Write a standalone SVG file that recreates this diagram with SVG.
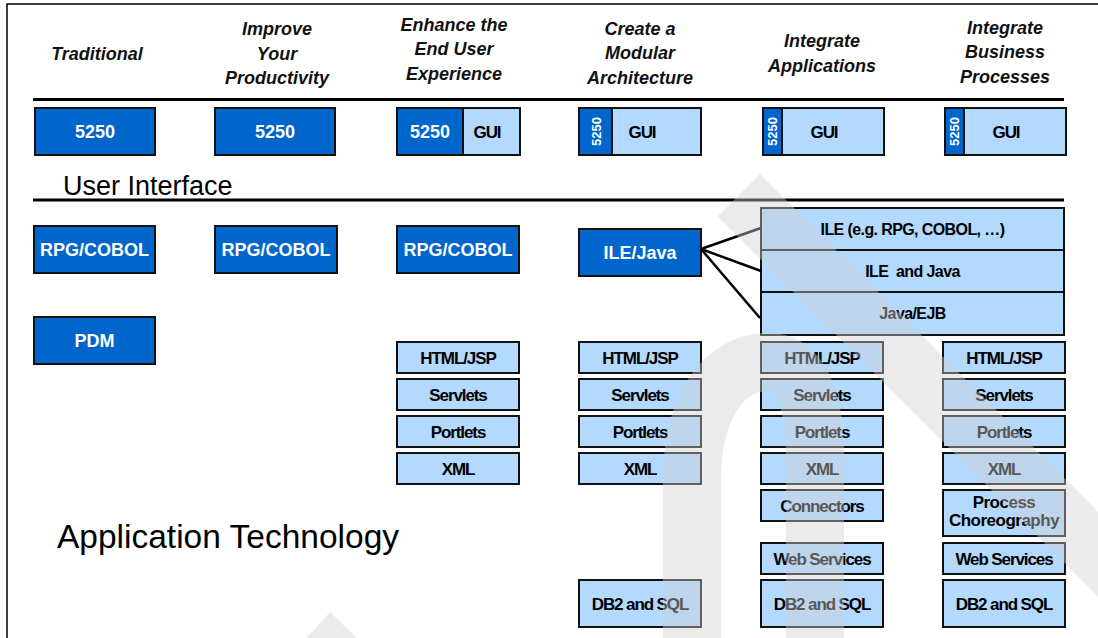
<svg xmlns="http://www.w3.org/2000/svg" width="1098" height="638" viewBox="0 0 1098 638">
<style>
  text { font-family: "Liberation Sans", Arial, sans-serif; }
  .hdr { font-size: 18px; font-weight: bold; font-style: italic; fill: #111; text-anchor: middle; }
  .sec { font-weight: normal; fill: #000; }
  .dkb { fill: #0066cc; stroke: #111; stroke-width: 2; }
  .ltb { fill: #b3d9ff; stroke: #111; stroke-width: 2; }
  .dk { font-size: 18px; font-weight: bold; fill: #fff; text-anchor: middle; }
  .vt { font-size: 13px; font-weight: bold; fill: #fff; text-anchor: middle; }
  .lt { font-size: 17px; font-weight: bold; fill: #000; text-anchor: middle; letter-spacing: -1.1px; }
  .st { font-size: 16px; font-weight: bold; fill: #000; text-anchor: middle; letter-spacing: -0.6px; }
  .rule { stroke: #000; stroke-width: 3; fill: none; }
  .conn { stroke: #000; stroke-width: 2.5; fill: none; }
  .wm { fill: #cfcfcf; opacity: 0.42; }
  .wms { stroke: #cfcfcf; opacity: 0.42; fill: none; }
</style>
<rect x="0" y="0" width="1098" height="638" fill="#fff"/>
<path d="M7 638 V4 H1098" stroke="#000" stroke-width="1.5" fill="none"/>

<g id="headers">
  <text class="hdr" x="97" y="60">Traditional</text>
  <text class="hdr" x="277" y="35">Improve</text>
  <text class="hdr" x="277" y="60">Your</text>
  <text class="hdr" x="277" y="84">Productivity</text>
  <text class="hdr" x="454" y="31">Enhance the</text>
  <text class="hdr" x="454" y="55">End User</text>
  <text class="hdr" x="454" y="80">Experience</text>
  <text class="hdr" x="640" y="35">Create a</text>
  <text class="hdr" x="640" y="59">Modular</text>
  <text class="hdr" x="640" y="84">Architecture</text>
  <text class="hdr" x="822" y="47">Integrate</text>
  <text class="hdr" x="822" y="72">Applications</text>
  <text class="hdr" x="1005" y="34">Integrate</text>
  <text class="hdr" x="1005" y="58">Business</text>
  <text class="hdr" x="1005" y="83">Processes</text>
</g>
<path class="rule" d="M33 99.5 H1064"/>
<text class="sec" x="63" y="195" font-size="27">User Interface</text>
<path class="rule" d="M33 200 H1064"/>
<text class="sec" x="57" y="548" font-size="33.5">Application Technology</text>

<g id="ui-traditional"><rect class="dkb" x="35" y="108" width="120" height="47"/><text class="dk" x="95" y="138">5250</text></g>
<g id="ui-productivity"><rect class="dkb" x="215" y="108" width="120" height="47"/><text class="dk" x="275" y="138">5250</text></g>
<g id="ui-enduser">
  <rect class="dkb" x="397" y="108" width="66" height="47"/><text class="dk" x="430" y="138">5250</text>
  <rect class="ltb" x="463" y="108" width="57" height="47"/><text class="lt" x="487" y="137.5">GUI</text>
</g>
<g id="ui-modular">
  <rect class="dkb" x="579" y="108" width="33" height="47"/><text class="vt" transform="translate(596 131.5) rotate(-90)" x="0" y="4.5">5250</text>
  <rect class="ltb" x="612" y="108" width="89" height="47"/><text class="lt" x="642" y="137.5">GUI</text>
</g>
<g id="ui-integrate-apps">
  <rect class="dkb" x="763" y="108" width="19" height="47"/><text class="vt" transform="translate(772.5 131.5) rotate(-90)" x="0" y="4.5">5250</text>
  <rect class="ltb" x="782" y="108" width="102" height="47"/><text class="lt" x="824" y="137.5">GUI</text>
</g>
<g id="ui-integrate-bp">
  <rect class="dkb" x="945" y="108" width="19" height="47"/><text class="vt" transform="translate(954.5 131.5) rotate(-90)" x="0" y="4.5">5250</text>
  <rect class="ltb" x="964" y="108" width="102" height="47"/><text class="lt" x="1006" y="137.5">GUI</text>
</g>

<g id="rpg1"><rect class="dkb" x="34" y="226" width="121" height="47"/><text class="dk" x="94.5" y="256">RPG/COBOL</text></g>
<g id="rpg2"><rect class="dkb" x="215" y="226" width="122" height="47"/><text class="dk" x="276" y="256">RPG/COBOL</text></g>
<g id="rpg3"><rect class="dkb" x="397" y="226" width="122" height="47"/><text class="dk" x="458" y="256">RPG/COBOL</text></g>
<g id="pdm"><rect class="dkb" x="34" y="317" width="121" height="47"/><text class="dk" x="94.5" y="347">PDM</text></g>
<g id="ilejava"><rect class="dkb" x="579" y="229" width="122" height="47"/><text class="dk" x="640" y="259">ILE/Java</text></g>

<g id="ile-stack">
  <rect class="ltb" x="761" y="208" width="303" height="42"/><text class="st" x="912.5" y="235">ILE (e.g. RPG, COBOL, …)</text>
  <rect class="ltb" x="761" y="250" width="303" height="42"/><text class="st" x="912.5" y="277" style="white-space:pre">ILE  and Java</text>
  <rect class="ltb" x="761" y="292" width="303" height="43"/><text class="st" x="912.5" y="319">Java/EJB</text>
</g>

<g id="connectors">
  <path class="conn" d="M701 249 L761 228 M701 249 L761 271 M701 249 L760 318"/>
</g>

<g id="col3-stack">
  <rect class="ltb" x="397" y="342" width="122" height="31"/><text class="lt" x="458" y="363.5">HTML/JSP</text>
  <rect class="ltb" x="397" y="379" width="122" height="31"/><text class="lt" x="458" y="400.5">Servlets</text>
  <rect class="ltb" x="397" y="416" width="122" height="31"/><text class="lt" x="458" y="437.5">Portlets</text>
  <rect class="ltb" x="397" y="453" width="122" height="31"/><text class="lt" x="458" y="474.5">XML</text>
</g>
<g id="col4-stack">
  <rect class="ltb" x="579" y="342" width="122" height="31"/><text class="lt" x="640" y="363.5">HTML/JSP</text>
  <rect class="ltb" x="579" y="379" width="122" height="31"/><text class="lt" x="640" y="400.5">Servlets</text>
  <rect class="ltb" x="579" y="416" width="122" height="31"/><text class="lt" x="640" y="437.5">Portlets</text>
  <rect class="ltb" x="579" y="453" width="122" height="31"/><text class="lt" x="640" y="474.5">XML</text>
  <rect class="ltb" x="579" y="580" width="122" height="47"/><text class="lt" x="640" y="609.5">DB2 and SQL</text>
</g>
<g id="col5-stack">
  <rect class="ltb" x="761" y="342" width="122" height="31"/><text class="lt" x="822" y="363.5">HTML/JSP</text>
  <rect class="ltb" x="761" y="379" width="122" height="31"/><text class="lt" x="822" y="400.5">Servlets</text>
  <rect class="ltb" x="761" y="416" width="122" height="31"/><text class="lt" x="822" y="437.5">Portlets</text>
  <rect class="ltb" x="761" y="453" width="122" height="31"/><text class="lt" x="822" y="474.5">XML</text>
  <rect class="ltb" x="761" y="490" width="122" height="31"/><text class="lt" x="822" y="511.5">Connectors</text>
  <rect class="ltb" x="761" y="543" width="122" height="31"/><text class="lt" x="822" y="564.5">Web Services</text>
  <rect class="ltb" x="761" y="580" width="122" height="47"/><text class="lt" x="822" y="609.5">DB2 and SQL</text>
</g>
<g id="col6-stack">
  <rect class="ltb" x="943" y="342" width="122" height="31"/><text class="lt" x="1004" y="363.5">HTML/JSP</text>
  <rect class="ltb" x="943" y="379" width="122" height="31"/><text class="lt" x="1004" y="400.5">Servlets</text>
  <rect class="ltb" x="943" y="416" width="122" height="31"/><text class="lt" x="1004" y="437.5">Portlets</text>
  <rect class="ltb" x="943" y="453" width="122" height="31"/><text class="lt" x="1004" y="474.5">XML</text>
  <rect class="ltb" x="943" y="490" width="122" height="46"/><text class="lt" x="1004" y="508" style="letter-spacing:-0.5px">Process</text><text class="lt" x="1004" y="526" style="letter-spacing:-0.5px">Choreography</text>
  <rect class="ltb" x="943" y="543" width="122" height="31"/><text class="lt" x="1004" y="564.5">Web Services</text>
  <rect class="ltb" x="943" y="580" width="122" height="47"/><text class="lt" x="1004" y="609.5">DB2 and SQL</text>
</g>

<g id="watermark">
  <path class="wms" stroke-width="60" d="M738.8 195.2 L1150 606"/>
  <path class="wms" stroke-width="58" d="M692 645 L692 480 C692 405 725 362 768 362 C805 362 815 410 815 455 L815 645"/>
  <polygon class="wm" points="304,641 330,612 360,641"/>
</g>
</svg>
